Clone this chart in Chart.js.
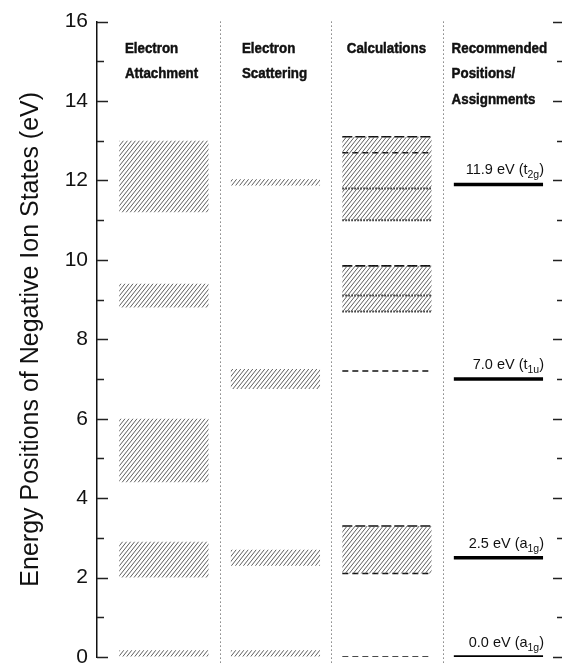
<!DOCTYPE html>
<html>
<head>
<meta charset="utf-8">
<script src="https://cdn.jsdelivr.net/npm/chart.js@4.4.1/dist/chart.umd.min.js"></script>
<style>
    html, body { margin: 0; padding: 0; background: #fff; overflow: hidden; }
    #wrap { width: 562px; height: 680px; position: relative; }
</style>
</head>
<body>
<div id="wrap"><canvas id="chart"></canvas></div>
<script>
// column headings
const columnTitles = [
    ['Electron', 'Attachment'],
    ['Electron', 'Scattering'],
    ['Calculations'],
    ['Recommended', 'Positions/', 'Assignments']
];

// hatched ranges [low, high] in eV
const attachmentRanges = [[0, 0.17], [2.0, 2.9], [4.4, 6.0], [8.8, 9.4], [11.2, 13.0]];
const scatteringRanges = [[0, 0.17], [2.3, 2.7], [6.75, 7.25], [11.87, 12.03]];
const calcRanges = [[2.1, 3.3], [8.7, 9.85], [11.0, 13.1]];

// calculated levels (eV), by line style
const calcLongDash = [3.3, 9.85, 13.1];
const calcShortDash = [0, 2.1, 7.2, 12.7];
const calcDotted = [8.7, 9.1, 11.0, 11.8];

// recommended positions
const recommended = [0.0, 2.5, 7.0, 11.9];
const recLabels = [
    ['0.0 eV (a', '1g', ')'],
    ['2.5 eV (a', '1g', ')'],
    ['7.0 eV (t', '1u', ')'],
    ['11.9 eV (t', '2g', ')']
];

const yMin = 0, yMax = 16, yStep = 2;

const canvas = document.getElementById('chart');

function makeHatch() {
    const tile = document.createElement('canvas');
    const w = 4, h = 5;
    tile.width = w;
    tile.height = h;
    const c = tile.getContext('2d');
    c.strokeStyle = '#555';
    c.lineWidth = 0.95;
    for (let k = -1; k <= 1; k++) {
        c.beginPath();
        c.moveTo(k * w, h);
        c.lineTo(k * w + w, 0);
        c.stroke();
    }
    return canvas.getContext('2d').createPattern(tile, 'repeat');
}

const hatch = makeHatch();

function hatchedBars(ranges, center) {
    return {
        type: 'bar',
        data: ranges.map(r => ({ x: center, y: r })),
        backgroundColor: hatch,
        borderWidth: 0,
        grouped: false,
        barPercentage: 0.8,
        categoryPercentage: 1
    };
}

function levelLine(value, from, to, dash, width, color) {
    return {
        type: 'line',
        data: [{ x: from, y: value }, { x: to, y: value }],
        borderColor: color,
        borderWidth: width,
        borderDash: dash,
        borderCapStyle: 'butt',
        pointRadius: 0,
        fill: false
    };
}

const datasets = [
    hatchedBars(attachmentRanges, 0.5),
    hatchedBars(scatteringRanges, 1.5),
    hatchedBars(calcRanges, 2.5),
    ...calcLongDash.map(v => levelLine(v, 2.1, 2.9, [10, 3], 1.6, '#111')),
    ...calcShortDash.map(v => levelLine(v, 2.1, 2.9, [6, 4], 1.5, '#111')),
    ...calcDotted.map(v => levelLine(v, 2.1, 2.9, [1.5, 1.5], 2, '#222')),
    ...recommended.map(v => levelLine(v, 3.1, 3.9, [], 3.5, '#000'))
];

// separators, inward tick marks, headings and labels
const decorations = {
    id: 'decorations',
    afterDraw(chart) {
        const { ctx, chartArea, scales: { x, y } } = chart;
        ctx.save();

        // dotted column separators
        ctx.strokeStyle = '#444';
        ctx.lineWidth = 1;
        ctx.setLineDash([1, 3]);
        [1, 2, 3].forEach(v => {
            const px = Math.round(x.getPixelForValue(v)) + 0.5;
            ctx.beginPath();
            ctx.moveTo(px, chartArea.top);
            ctx.lineTo(px, chart.height);
            ctx.stroke();
        });
        ctx.setLineDash([]);

        // tick marks pointing inward, left and right
        ctx.strokeStyle = '#222';
        ctx.lineWidth = 1.3;
        for (let v = yMin; v <= yMax; v++) {
            const py = Math.round(y.getPixelForValue(v)) + 0.5;
            const major = v % yStep === 0;
            ctx.beginPath();
            ctx.moveTo(chartArea.left, py);
            ctx.lineTo(chartArea.left + (major ? 11 : 7), py);
            ctx.moveTo(chartArea.right, py);
            ctx.lineTo(chartArea.right - (major ? 9 : 5), py);
            ctx.stroke();
        }

        // column headings (bold, squeezed to a condensed look)
        const titleOffsets = [0.15, 0.2, 0.14, 0.08];
        ctx.fillStyle = '#111';
        ctx.strokeStyle = '#111';
        ctx.lineWidth = 0.5;
        ctx.font = "bold 15.5px 'Liberation Sans', Arial, sans-serif";
        ctx.textAlign = 'left';
        ctx.textBaseline = 'alphabetic';
        columnTitles.forEach((lines, i) => {
            const px = x.getPixelForValue(i + titleOffsets[i]);
            lines.forEach((t, j) => {
                ctx.save();
                ctx.translate(px, chartArea.top + 31 + j * 25.5);
                ctx.scale(0.86, 1);
                ctx.fillText(t, 0, 0);
                ctx.strokeText(t, 0, 0);
                ctx.restore();
            });
        });

        // recommended labels with subscripts
        const mainFont = "14.5px 'Liberation Sans', Arial, sans-serif";
        const subFont = "10.5px 'Liberation Sans', Arial, sans-serif";
        recommended.forEach((v, i) => {
            const [a, sub, b] = recLabels[i];
            ctx.font = mainFont;
            const wa = ctx.measureText(a).width;
            const wb = ctx.measureText(b).width;
            ctx.font = subFont;
            const ws = ctx.measureText(sub).width;
            const right = x.getPixelForValue(3.9) + 1;
            const base = y.getPixelForValue(v) - 10;
            let px = right - (wa + ws + wb);
            ctx.font = mainFont;
            ctx.fillText(a, px, base);
            px += wa;
            ctx.font = subFont;
            ctx.fillText(sub, px, base + 4);
            px += ws;
            ctx.font = mainFont;
            ctx.fillText(b, px, base);
        });

        ctx.restore();
    }
};

new Chart(canvas, {
    type: 'bar',
    data: { datasets: datasets },
    options: {
        responsive: true,
        maintainAspectRatio: false,
        animation: false,
        layout: { padding: { top: 18, bottom: 23, left: 0, right: 0 } },
        plugins: {
            legend: { display: false },
            tooltip: { enabled: false }
        },
        scales: {
            x: {
                type: 'linear',
                min: -0.1,
                max: 4.07,
                offset: false,
                grid: { display: false, offset: false, drawTicks: false },
                border: { display: false },
                ticks: { display: false },
                afterBuildTicks: scale => {
                    scale.ticks = [0, 1, 2, 3, 4].map(v => ({ value: v }));
                }
            },
            y: {
                type: 'linear',
                position: 'left',
                min: yMin,
                max: yMax,
                ticks: {
                    stepSize: yStep,
                    padding: 9,
                    color: '#111',
                    font: { family: "'Liberation Sans', Arial, sans-serif", size: 21 }
                },
                grid: { drawOnChartArea: false, drawTicks: false },
                border: { display: true, color: '#111', width: 1.5 },
                title: {
                    display: true,
                    text: 'Energy Positions of Negative Ion States (eV)',
                    color: '#111',
                    font: { family: "'Liberation Sans', Arial, sans-serif", size: 25 },
                    padding: { top: 16, bottom: 0 }
                },
                afterFit: scale => {
                    scale.width = 97;
                }
            }
        }
    },
    plugins: [decorations]
});
</script>
</body>
</html>
